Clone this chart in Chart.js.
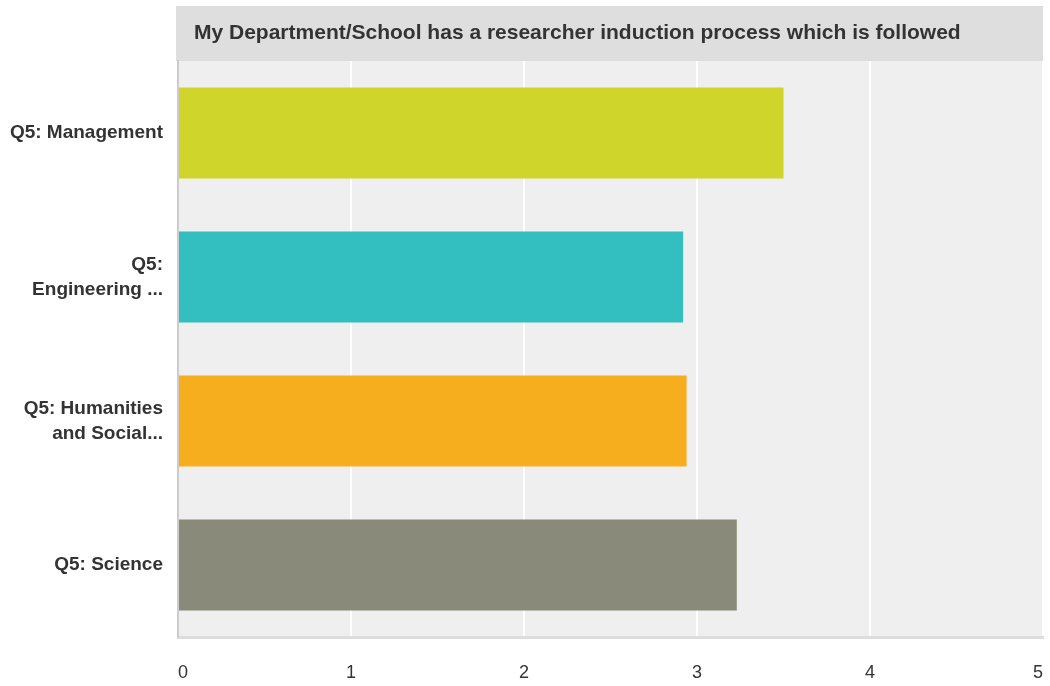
<!DOCTYPE html>
<html>
<head>
<meta charset="utf-8">
<script src="https://cdn.jsdelivr.net/npm/chart.js@4"></script>
<style>
  html, body { margin: 0; padding: 0; background: #fff; }
  #wrap { width: 1050px; height: 686px; }
</style>
</head>
<body>
<div id="wrap"><canvas id="surveyBar" width="1050" height="686"></canvas></div>
<script>
var chartTitle = "My Department/School has a researcher induction process which is followed";
var categories = [
  "Q5: Management",
  ["Q5:", "Engineering ..."],
  ["Q5: Humanities", "and Social..."],
  "Q5: Science"
];
var averages = [3.5, 2.92, 2.94, 3.23];
var barColors = ["#cfd52a", "#33bec0", "#f7ae1e", "#898a79"];
var xTicks = [0, 1, 2, 3, 4, 5];

// grey plot background + title strip above the plot area
var panelPlugin = {
  id: "panel",
  beforeDraw: function (chart) {
    var ctx = chart.ctx;
    var a = chart.chartArea;
    ctx.save();
    ctx.fillStyle = "#efefef";
    ctx.fillRect(a.left, a.top, a.right - a.left, a.bottom - a.top);
    ctx.fillStyle = "#dedede";
    ctx.fillRect(a.left - 2, 6, a.right - a.left + 2, a.top - 6);
    ctx.fillStyle = "#333333";
    ctx.font = "bold 21px 'Liberation Sans', Arial, sans-serif";
    ctx.textBaseline = "middle";
    ctx.textAlign = "left";
    ctx.fillText(chartTitle, a.left + 16, 33);
    ctx.restore();
  }
};

new Chart(document.getElementById("surveyBar").getContext("2d"), {
  type: "bar",
  data: {
    labels: categories,
    datasets: [
      {
        data: averages,
        backgroundColor: barColors,
        borderWidth: 0,
        barPercentage: 0.632,
        categoryPercentage: 1
      }
    ]
  },
  options: {
    indexAxis: "y",
    responsive: false,
    animation: false,
    layout: { padding: { top: 61, right: 7, left: 0, bottom: 0 } },
    plugins: {
      legend: { display: false },
      tooltip: { enabled: false }
    },
    scales: {
      x: {
        min: xTicks[0],
        max: xTicks[xTicks.length - 1],
        afterBuildTicks: function (axis) {
          axis.ticks = xTicks.map(function (v) { return { value: v }; });
        },
        afterFit: function (axis) {
          axis.height = 49;
          axis.paddingLeft = 0;
          axis.paddingRight = 0;
        },
        grid: { color: "#ffffff", lineWidth: 2, drawTicks: false },
        border: { color: "#dddddd", width: 3 },
        ticks: {
          align: "inner",
          padding: 25,
          color: "#333333",
          font: { family: "'Liberation Sans', Arial, sans-serif", size: 18 }
        }
      },
      y: {
        afterFit: function (axis) {
          axis.width = 178;
          axis.paddingTop = 0;
          axis.paddingBottom = 0;
        },
        grid: { display: false, drawTicks: false },
        border: { color: "#cccccc", width: 2 },
        ticks: {
          padding: 15,
          color: "#333333",
          font: { family: "'Liberation Sans', Arial, sans-serif", size: 19, weight: "bold", lineHeight: 1.3 }
        }
      }
    }
  },
  plugins: [panelPlugin]
});
</script>
</body>
</html>
